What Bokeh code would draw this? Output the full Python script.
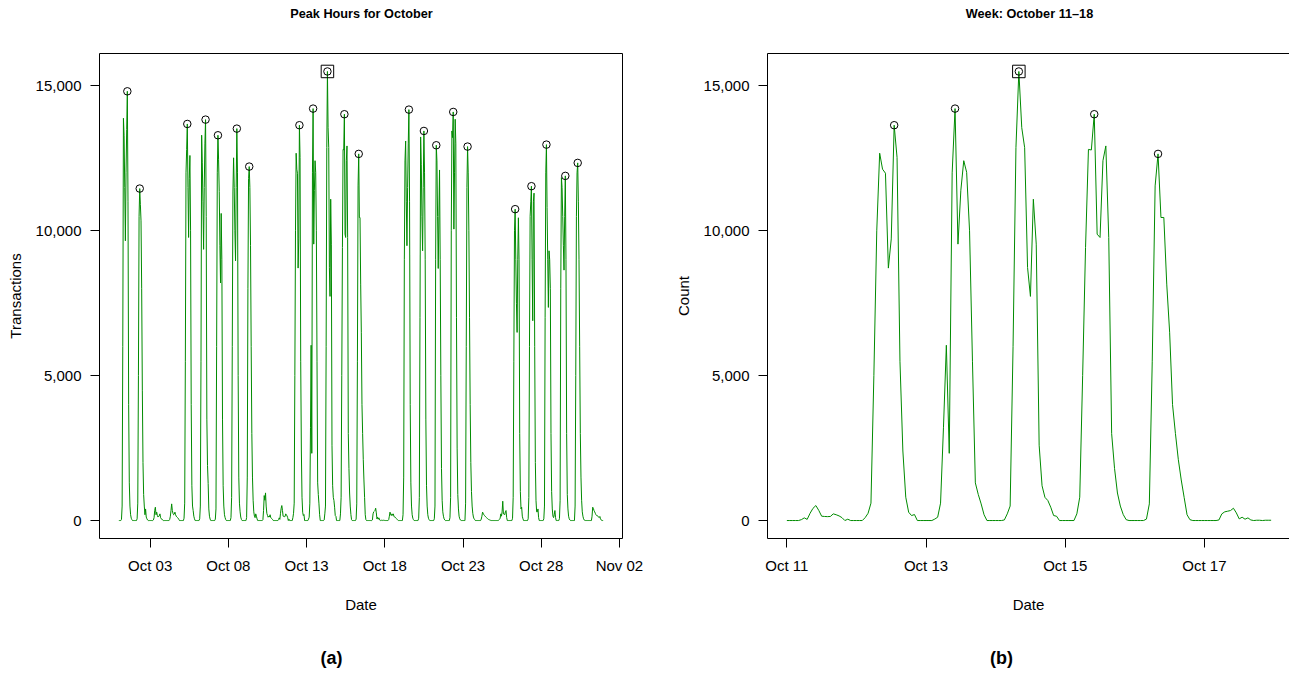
import numpy as np
import pandas as pd
from bokeh.plotting import figure
from bokeh.layouts import row, column
from bokeh.models import (ColumnDataSource, Range1d, FixedTicker, DatetimeTickFormatter,
                          NumeralTickFormatter, Label, LinearAxis, Grid)
from bokeh.embed import file_html
from bokeh.resources import INLINE

# ---- hourly transaction counts, October 2015 (24 values per day) ----
oct01 = [0, 0, 0, 0, 40, 500, 6000, 13885, 13280, 11500, 9655, 12000, 13500, 14815, 11000, 4000, 1300, 500, 200, 80, 30, 0, 0, 0]
oct02 = [0, 0, 0, 0, 60, 600, 5000, 10500, 11458, 10900, 10344, 8000, 4500, 2000, 900, 500, 200, 400, 120, 60, 20, 0, 0, 0]
oct03 = [0, 0, 0, 0, 0, 20, 100, 350, 460, 200, 290, 180, 120, 150, 160, 230, 100, 60, 50, 20, 0, 0, 0, 0]
oct04 = [0, 0, 0, 0, 0, 0, 40, 150, 350, 575, 350, 250, 200, 220, 290, 200, 150, 120, 100, 80, 40, 0, 0, 0]
oct05 = [0, 0, 0, 0, 80, 600, 5500, 12000, 12800, 13688, 11500, 9770, 11800, 12600, 10000, 4000, 1200, 500, 345, 150, 60, 0, 0, 0]
oct06 = [0, 0, 0, 0, 60, 500, 5500, 13300, 12345, 11000, 9360, 11500, 13000, 13838, 10500, 3500, 1897, 1276, 400, 150, 50, 0, 0, 0]
oct07 = [0, 0, 0, 0, 50, 400, 6000, 12000, 13298, 12450, 11360, 9500, 8200, 10600, 9000, 3500, 1200, 500, 200, 100, 30, 0, 0, 0]
oct08 = [0, 0, 0, 0, 100, 800, 6000, 11340, 12520, 11500, 10000, 8965, 11500, 13527, 12000, 5000, 1500, 600, 300, 120, 40, 0, 0, 0]
oct09 = [0, 0, 0, 0, 100, 1500, 8000, 11800, 12217, 11500, 9500, 6000, 3000, 1500, 700, 300, 150, 100, 230, 150, 60, 0, 0, 0]
oct10 = [0, 0, 0, 0, 0, 30, 345, 862, 700, 954, 500, 250, 180, 115, 150, 120, 200, 100, 80, 60, 30, 0, 0, 0]
oct11 = [0, 0, 0, 0, 0, 30, 92, 40, 250, 420, 517, 350, 150, 140, 135, 140, 230, 200, 160, 100, 0, 46, 0, 0]
oct12 = [0, 0, 0, 100, 250, 600, 5000, 10000, 12678, 12126, 11988, 8713, 9720, 13645, 12530, 5500, 2400, 805, 287, 172, 207, 0, 0, 0]
oct13 = [0, 0, 0, 50, 115, 600, 3200, 6050, 2320, 12000, 14218, 9540, 11400, 12420, 12020, 10000, 5500, 1300, 900, 575, 200, 0, 0, 0]
oct14 = [0, 0, 0, 20, 230, 500, 6000, 12872, 15500, 13560, 12870, 8735, 7736, 11090, 9540, 2600, 1200, 800, 690, 460, 172, 149, 0, 0]
oct15 = [0, 0, 0, 0, 230, 805, 5000, 9425, 12810, 12790, 14024, 9885, 9770, 12420, 12930, 9770, 3000, 1800, 950, 500, 206, 30, 0, 0]
oct16 = [0, 0, 0, 0, 50, 575, 5500, 11550, 12655, 10460, 10460, 8160, 6500, 4000, 3000, 2100, 1400, 800, 200, 30, 0, 0, 0, 0]
oct17 = [0, 0, 0, 0, 0, 20, 230, 300, 322, 345, 425, 264, 57, 115, 46, 92, 20, 0, 10, 10, 0, 10, 10, 10]
oct18 = [0, 0, 0, 0, 0, 0, 30, 150, 290, 200, 172, 230, 180, 230, 150, 120, 115, 80, 60, 40, 20, 0, 0, 0]
oct19 = [0, 0, 0, 0, 200, 1500, 9000, 12413, 13100, 11000, 9485, 11500, 13000, 14183, 11000, 4000, 1300, 500, 200, 80, 30, 0, 0, 0]
oct20 = [0, 0, 0, 0, 80, 800, 7000, 13240, 12300, 10500, 9310, 11500, 13447, 12000, 9000, 3500, 1200, 500, 200, 80, 30, 0, 0, 0]
oct21 = [0, 0, 0, 0, 60, 500, 9000, 12953, 12413, 10500, 8700, 10500, 12100, 9000, 5000, 1800, 700, 300, 150, 60, 20, 0, 0, 0]
oct22 = [0, 0, 0, 0, 100, 800, 10000, 13447, 13218, 14103, 10058, 12000, 13850, 13000, 7000, 2500, 900, 400, 150, 60, 20, 0, 0, 0]
oct23 = [0, 0, 0, 0, 600, 6000, 11500, 12907, 12000, 10000, 7000, 4000, 2000, 1000, 500, 250, 120, 60, 30, 0, 0, 0, 0, 0]
oct24 = [0, 0, 0, 0, 50, 150, 290, 250, 200, 172, 150, 120, 100, 80, 60, 40, 30, 20, 10, 0, 0, 0, 0, 0]
oct25 = [0, 0, 0, 0, 0, 0, 0, 20, 40, 80, 230, 150, 300, 667, 230, 230, 200, 300, 345, 100, 0, 0, 0, 0]
oct26 = [0, 0, 0, 0, 80, 800, 5500, 10000, 10747, 9000, 7500, 6493, 9000, 10450, 9000, 3000, 1000, 400, 460, 150, 60, 0, 0, 0]
oct27 = [0, 0, 0, 0, 60, 800, 6000, 10500, 11000, 11540, 9000, 6896, 11000, 11300, 6000, 2000, 700, 300, 300, 400, 100, 0, 0, 0]
oct28 = [0, 0, 0, 0, 60, 500, 7000, 12000, 12975, 10800, 9000, 7356, 9310, 9000, 8000, 3000, 1000, 400, 150, 100, 200, 345, 100, 0]
oct29 = [0, 0, 0, 0, 70, 700, 8000, 11837, 11495, 10500, 9500, 8643, 10500, 11896, 9000, 3000, 900, 400, 150, 60, 20, 0, 0, 0]
oct30 = [0, 0, 0, 0, 500, 5000, 10500, 12000, 12344, 11000, 9000, 6000, 3000, 1500, 700, 300, 150, 60, 20, 0, 0, 0, 0, 0]
oct31 = [0, 0, 0, 0, 0, 0, 150, 460, 420, 345, 300, 250, 200, 172, 172, 150, 115, 100, 140, 60, 20, 0, 0, 0]

# weekdays whose daily peak is marked
peak_days = [1, 2, 5, 6, 7, 8, 9, 12, 13, 14, 15, 16, 19, 20, 21, 22, 23, 26, 27, 28, 29, 30]

month_ticks = ["2015-10-03", "2015-10-08", "2015-10-13", "2015-10-18",
               "2015-10-23", "2015-10-28", "2015-11-02"]
week_ticks = ["2015-10-11", "2015-10-13", "2015-10-15", "2015-10-17"]
y_ticks = [0, 5000, 10000, 15000]
week_first_day, week_last_day = 11, 17

# ---- assemble ----
days = [oct01, oct02, oct03, oct04, oct05, oct06, oct07, oct08, oct09, oct10,
        oct11, oct12, oct13, oct14, oct15, oct16, oct17, oct18, oct19, oct20,
        oct21, oct22, oct23, oct24, oct25, oct26, oct27, oct28, oct29, oct30, oct31]
counts = np.array(sum(days, []), dtype=float)
times = pd.date_range("2015-10-01 00:00", periods=len(counts), freq="h")


def ms(t):
    return pd.Timestamp(t).value / 1e6


peak_idx = []
for d in peak_days:
    seg = counts[(d - 1) * 24: d * 24]
    peak_idx.append((d - 1) * 24 + int(np.argmax(seg)))
peak_idx = np.array(peak_idx)
top_idx = int(np.argmax(counts))

FONT = "Liberation Sans"
GREEN = "#008B00"

# geometry (pixels)
TITLE_H = 26            # strip holding the panel titles
CAP_H = 45              # strip holding the (a)/(b) captions
MAIN_H = 604
FRAME_TOP = 27          # inside the main figures
FRAME_H = 485
A_W, A_LEFT, A_FRAME_W = 660, 99, 523
B_W, B_LEFT, B_FRAME_W = 629, 107, 522


def r_range(t0, t1, frac=0.04):
    a, b = ms(t0), ms(t1)
    e = (b - a) * frac
    return a - e, b + e


ye = counts.max() * 0.04
yr = (0 - ye, counts.max() + ye)


def style(p, ylabel, xticks):
    p.xgrid.visible = False
    p.ygrid.visible = False
    p.background_fill_color = "white"
    p.border_fill_color = "white"
    for ax in (p.xaxis[0], p.yaxis[0]):
        ax.axis_line_color = None
        ax.major_tick_line_color = "black"
        ax.major_tick_out = 9
        ax.major_tick_in = 0
        ax.minor_tick_line_color = None
        ax.major_label_text_font = FONT
        ax.major_label_text_font_size = "15px"
        ax.major_label_text_color = "black"
        ax.axis_label_text_font = FONT
        ax.axis_label_text_font_size = "15px"
        ax.axis_label_text_font_style = "normal"
        ax.axis_label_text_color = "black"
    xa = p.xaxis[0]
    xa.ticker = FixedTicker(ticks=[ms(t) for t in xticks])
    xa.formatter = DatetimeTickFormatter(days="%b %d", months="%b %d", hours="%b %d",
                                         years="%b %d")
    xa.major_label_standoff = 9
    xa.axis_label = "Date"
    xa.axis_label_standoff = 19
    ya = p.yaxis[0]
    ya.ticker = FixedTicker(ticks=y_ticks)
    ya.formatter = NumeralTickFormatter(format="0,0")
    ya.major_label_standoff = 9
    ya.major_label_orientation = "horizontal"
    ya.axis_label = ylabel
    ya.axis_label_standoff = 9


def text_strip(width, height, items):
    f = figure(width=width, height=height, x_range=Range1d(0, width),
               y_range=Range1d(0, height), output_backend="svg", toolbar_location=None,
               title=None, x_axis_location=None, y_axis_location=None,
               min_border_left=0, min_border_right=0, min_border_top=0, min_border_bottom=0)
    f.outline_line_color = None
    f.background_fill_color = "white"
    f.border_fill_color = "white"
    for g in f.select(type=Grid):
        g.visible = False
        g.grid_line_color = None
    for x, y_from_top, txt, size in items:
        f.add_layout(Label(x=x, y=height - y_from_top, text=txt, text_align="center",
                           text_baseline="middle", text_font=FONT, text_font_size=size,
                           text_font_style="bold", text_color="black"))
    return f


# ---- panel (a): whole month ----
src = ColumnDataSource(dict(t=times, y=counts))
pk = ColumnDataSource(dict(t=times[peak_idx], y=counts[peak_idx]))
top = ColumnDataSource(dict(t=[times[top_idx]], y=[counts[top_idx]]))

xa0, xa1 = r_range(times[0], times[-1])
pa = figure(width=A_W, height=MAIN_H, x_axis_type="datetime", output_backend="svg",
            toolbar_location=None, title=None, x_range=Range1d(xa0, xa1),
            y_range=Range1d(*yr),
            min_border_left=A_LEFT, min_border_right=A_W - A_LEFT - A_FRAME_W,
            min_border_top=FRAME_TOP, min_border_bottom=MAIN_H - FRAME_TOP - FRAME_H)
pa.line("t", "y", source=src, line_color=GREEN, line_width=1)
pa.scatter("t", "y", source=pk, marker="circle", size=7.5, fill_color=None,
           line_color="black", line_width=1)
pa.scatter("t", "y", source=top, marker="square", size=12.5, fill_color=None,
           line_color="black", line_width=1)
style(pa, "Transactions", month_ticks)
pa.outline_line_color = "black"
pa.outline_line_width = 1

# ---- panel (b): one week ----
w0 = (week_first_day - 1) * 24
w1 = week_last_day * 24
wsrc = ColumnDataSource(dict(t=times[w0:w1], y=counts[w0:w1]))
wmask = (peak_idx >= w0) & (peak_idx < w1)
wpk = ColumnDataSource(dict(t=times[peak_idx[wmask]], y=counts[peak_idx[wmask]]))

xb0, xb1_full = r_range(times[w0], times[w1 - 1])
ms_per_px = (xb1_full - xb0) / 523.0
xb1 = xb0 + B_FRAME_W * ms_per_px
pb = figure(width=B_W, height=MAIN_H, x_axis_type="datetime", output_backend="svg",
            toolbar_location=None, title=None, x_range=Range1d(xb0, xb1),
            y_range=Range1d(*yr),
            min_border_left=B_LEFT, min_border_right=B_W - B_LEFT - B_FRAME_W,
            min_border_top=FRAME_TOP, min_border_bottom=MAIN_H - FRAME_TOP - FRAME_H)
pb.line("t", "y", source=wsrc, line_color=GREEN, line_width=1)
pb.scatter("t", "y", source=wpk, marker="circle", size=7.5, fill_color=None,
           line_color="black", line_width=1)
pb.scatter("t", "y", source=top, marker="square", size=12.5, fill_color=None,
           line_color="black", line_width=1)
style(pb, "Count", week_ticks)
# the box of panel (b) runs past the right edge of the page: draw left, bottom, top only
pb.outline_line_color = None
pb.xaxis[0].axis_line_color = "black"
pb.yaxis[0].axis_line_color = "black"
top_axis = LinearAxis(axis_line_color="black", major_tick_line_color=None,
                      minor_tick_line_color=None, major_label_text_font_size="0px",
                      major_label_text_alpha=0, ticker=FixedTicker(ticks=[]))
pb.add_layout(top_axis, "above")

# ---- title and caption strips ----
titles = row(text_strip(A_W, TITLE_H, [(361, 13, "Peak Hours for October", "12.7px")]),
             text_strip(B_W, TITLE_H, [(1029 - A_W, 13, "Week: October 11\u201318", "12.7px")]))
captions = row(text_strip(A_W, CAP_H, [(331, 657 - TITLE_H - MAIN_H, "(a)", "18px")]),
               text_strip(B_W, CAP_H, [(1001 - A_W, 657 - TITLE_H - MAIN_H, "(b)", "18px")]))

layout = column(titles, row(pa, pb), captions)
open("out.html", "w").write(file_html(layout, INLINE))
